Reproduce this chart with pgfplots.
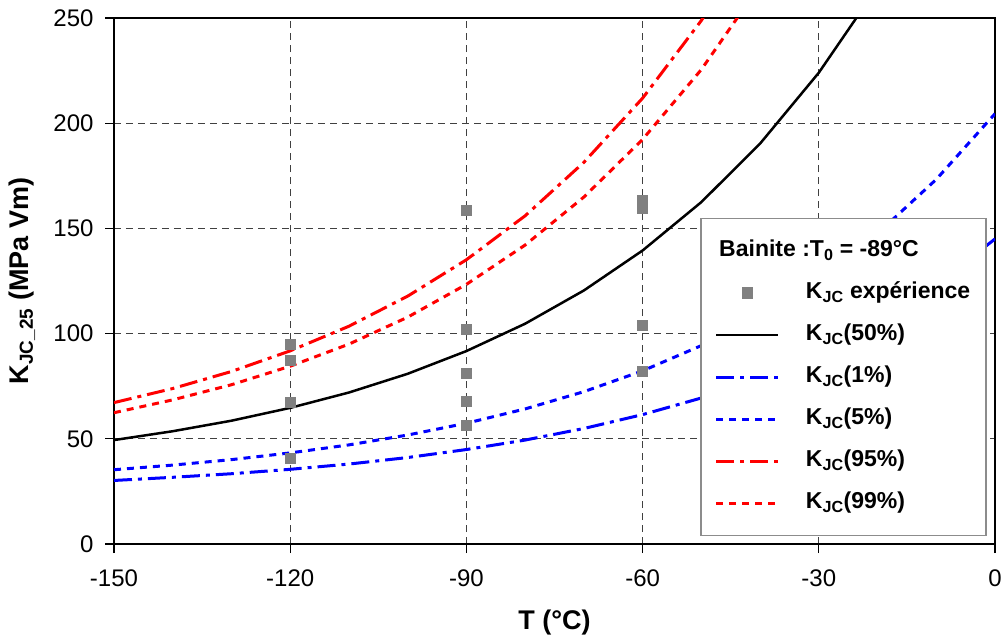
\documentclass[border=0pt]{standalone}
\usepackage{fontspec}
\setmainfont{Liberation Sans}
\usepackage{pgfplots}
\pgfplotsset{compat=1.18}
\begin{document}
\begin{tikzpicture}
\useasboundingbox (-114pt,-97pt) rectangle (890pt,544pt);
\begin{axis}[
  at={(0pt,0pt)}, anchor=south west,
  scale only axis, width=881pt, height=526pt,
  xmin=-150, xmax=0, ymin=0, ymax=250,
  xtick={-150,-120,-90,-60,-30,0},
  xticklabels={-150,-120,-90,-60,-30,0},
  ytick={0,50,100,150,200,250},
  yticklabels={0,50,100,150,200,250},
  xtick pos=bottom, ytick pos=left,
  tick align=outside, major tick length=9pt,
  tick style={black, line width=1.2pt},
  axis line style={black, line width=1.6pt},
  grid=major,
  major grid style={black!75, line width=1.1pt, dash pattern=on 7pt off 5pt},
  ticklabel style={font=\fontsize{24}{24}\selectfont},
  xticklabel style={yshift=-13pt},
  yticklabel style={xshift=-8pt},
  every axis x label/.style={at={(axis description cs:0.5,-0.150)}, anchor=center},
  every axis y label/.style={at={(axis description cs:-0.1044,0.5)}, anchor=center, rotate=90},
  xlabel={\fontsize{27}{27}\selectfont\bfseries T (°C)},
  ylabel={\fontsize{27}{27}\selectfont\bfseries K\textsubscript{JC\_25} (MPa Vm)},
  clip=true,
  legend cell align=left,
  legend style={
    at={(rel axis cs:0.9909,0.6198)}, anchor=north east,
    fill=white, draw=black!45, line width=1.5pt,
    font=\fontsize{23}{23}\selectfont\bfseries,
    row sep=17pt, inner xsep=14pt, inner ysep=20pt,
    nodes={inner sep=2pt, text height=16pt, text depth=5pt},
    column sep=24pt,
  },
  legend image code/.code={
    \draw[mark repeat=2,mark phase=2,#1] plot coordinates {(0pt,0pt) (31pt,0pt) (62pt,0pt)};
  },
]
% legend title
\addlegendimage{legend image code/.code={
  \node[overlay, anchor=west, inner sep=0pt, font=\fontsize{23}{23}\selectfont\bfseries] at (2pt,0pt) {Bainite :T\textsubscript{0} = -89°C};}}
\addlegendentry{\strut}

% experimental points
\addplot[only marks, mark=square*, mark size=5pt, color=black!50, mark options={draw=black!50, fill=black!50}]
coordinates {
(-120,95.1) (-120,87.5) (-120,67.5) (-120,40.8)
(-90,158.7) (-90,102.0) (-90,81.1) (-90,68.1) (-90,56.4)
(-60,163.5) (-60,159.7) (-60,104.1) (-60,82.2)
};
\addlegendentry{K\textsubscript{JC} expérience}

% 50 %
\addplot[black, line width=2.5pt, line join=round] coordinates {
(-150,49.4) (-140,53.6) (-130,58.6) (-120,64.7) (-110,72.0) (-100,80.9)
(-90,91.7) (-80,104.7) (-70,120.5) (-60,139.5) (-50,162.5) (-40,190.3)
(-30,224.0) (-20,264.7)
};
\addlegendentry{K\textsubscript{JC}(50\%)}

% 1 %
\addplot[blue, line width=3pt, dash pattern=on 18pt off 6pt on 4pt off 6pt] coordinates {
(-150,30.2) (-140,31.7) (-130,33.4) (-120,35.5) (-110,38.0) (-100,41.1)
(-90,44.9) (-80,49.4) (-70,54.9) (-60,61.5) (-50,69.4) (-40,79.3)
(-30,91.2) (-20,105.5) (-10,123.0) (0,145.0)
};
\addlegendentry{K\textsubscript{JC}(1\%)}

% 5 %
\addplot[blue, line width=3pt, dash pattern=on 7pt off 6pt] coordinates {
(-150,35.3) (-140,37.5) (-130,40.1) (-120,43.3) (-110,47.1) (-100,51.8)
(-90,57.4) (-80,64.2) (-70,72.4) (-60,82.3) (-50,94.3) (-40,108.8)
(-30,126.4) (-20,147.6) (-10,173.3) (0,204.5)
};
\addlegendentry{K\textsubscript{JC}(5\%)}

% 95 %
\addplot[red, line width=3pt, dash pattern=on 18pt off 6pt on 4pt off 6pt] coordinates {
(-150,67.2) (-140,73.9) (-130,82.0) (-120,91.8) (-110,103.5) (-100,117.8)
(-90,135.1) (-80,156.0) (-70,181.4) (-60,211.9) (-50,248.8) (-40,293.4)
};
\addlegendentry{K\textsubscript{JC}(95\%)}

% 99 %
\addplot[red, line width=3pt, dash pattern=on 7pt off 6pt] coordinates {
(-150,62.4) (-140,68.5) (-130,75.7) (-120,84.5) (-110,95.0) (-100,107.8)
(-90,123.4) (-80,142.1) (-70,164.9) (-60,192.3) (-50,225.5) (-40,265.6)
};
\addlegendentry{K\textsubscript{JC}(99\%)}
\end{axis}
\end{tikzpicture}
\end{document}
